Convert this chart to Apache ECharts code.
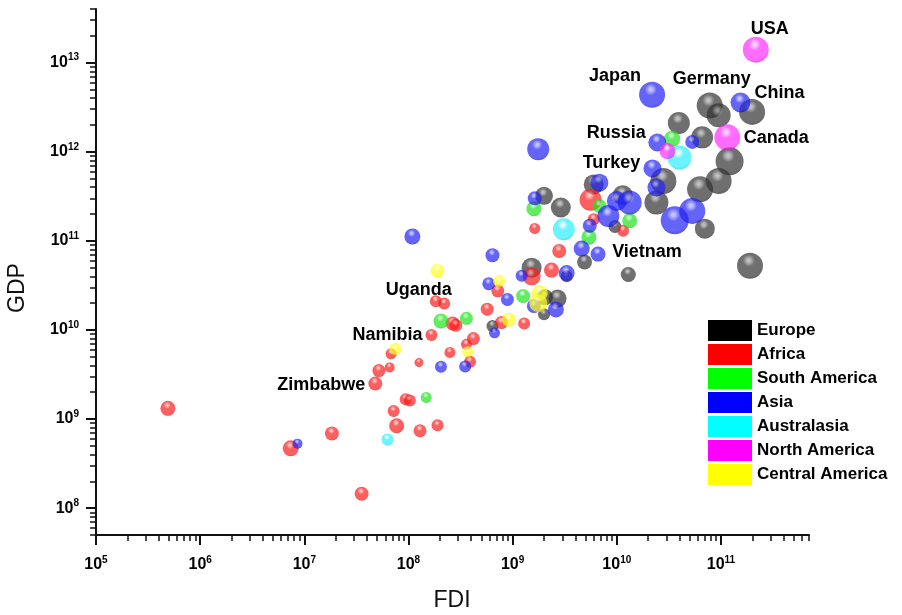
<!DOCTYPE html>
<html>
<head>
<meta charset="utf-8">
<script src="https://cdn.jsdelivr.net/npm/echarts@6/dist/echarts.min.js"></script>
<style>
  html, body { margin: 0; padding: 0; background: #fff; }
  #main { width: 902px; height: 615px; }
</style>
</head>
<body>
<div id="main"></div>
<script>
// [FDI, GDP, bubble size, country label]
var europe = [
  [7.8e10, 3.3e12, 26, 'Germany'], [9.5e10, 2.57e12, 24], [1.99e11, 2.8e12, 26], [3.94e10, 2.1e12, 22],
  [6.6e10, 1.45e12, 22], [1.21e11, 7.8e11, 28], [2.8e10, 4.7e11, 26], [9.5e10, 4.7e11, 26],
  [6.3e10, 3.8e11, 26], [2.4e10, 2.7e11, 24], [7.0e10, 1.37e11, 20], [1.9e11, 5.25e10, 26],
  [1.29e10, 4.2e10, 15], [1.14e10, 3.26e11, 20], [9.6e9, 1.45e11, 13], [6.0e9, 4.3e11, 20],
  [2.0e9, 3.2e11, 18], [2.9e9, 2.37e11, 20], [4.9e9, 5.8e10, 15], [1.52e9, 5.0e10, 20],
  [3.3e9, 4.0e10, 12], [2.04e9, 2.33e10, 16], [2.7e9, 2.25e10, 18], [2.0e9, 1.5e10, 12],
  [6.4e8, 1.11e10, 12]
];
var africa = [
  [4.9e5, 1.32e9, 15], [7.4e6, 4.7e8, 16], [1.84e7, 6.9e8, 14], [3.55e7, 1.45e8, 14],
  [7.7e7, 8.4e8, 15], [7.2e7, 1.23e9, 12], [1.29e8, 7.4e8, 13], [1.9e8, 8.5e8, 12],
  [9.4e7, 1.67e9, 12], [1.03e8, 1.62e9, 12], [4.8e7, 2.5e9, 14, 'Zimbabwe'], [5.2e7, 3.5e9, 13],
  [6.6e7, 3.8e9, 10], [6.8e7, 5.4e9, 11], [1.26e8, 4.3e9, 9], [1.66e8, 8.8e9, 12, 'Namibia'],
  [2.5e8, 5.6e9, 11], [1.83e8, 2.1e10, 12, 'Uganda'], [2.2e8, 1.98e10, 12], [2.65e8, 1.18e10, 14],
  [2.85e8, 1.13e10, 13], [4.2e8, 8.0e9, 13], [3.6e8, 6.9e9, 11], [3.9e8, 4.4e9, 12],
  [7.2e8, 2.75e10, 13], [5.7e8, 1.71e10, 13], [7.8e8, 1.21e10, 13], [1.29e9, 1.18e10, 12],
  [1.63e9, 1.38e11, 11], [2.8e9, 7.7e10, 14], [1.52e9, 4.0e10, 18], [2.36e9, 4.7e10, 15],
  [5.6e9, 2.9e11, 22], [6.0e9, 1.75e11, 12], [1.15e10, 1.3e11, 12]
];
var southAmerica = [
  [1.48e8, 1.75e9, 11], [2.05e8, 1.26e10, 15], [3.6e8, 1.35e10, 13], [1.26e9, 2.4e10, 14],
  [1.6e9, 2.3e11, 15], [6.8e9, 2.46e11, 14], [5.4e9, 1.1e11, 15], [1.33e10, 1.68e11, 15],
  [3.4e10, 1.4e12, 16]
];
var asia = [
  [8.6e6, 5.3e8, 10], [2.05e8, 3.86e9, 12], [3.5e8, 3.9e9, 12], [1.09e8, 1.12e11, 16],
  [6.4e8, 6.9e10, 14], [5.9e8, 3.3e10, 13], [8.9e8, 2.2e10, 13], [6.7e8, 9.3e9, 11],
  [1.76e9, 1.07e12, 22], [1.63e9, 3.0e11, 14], [5.5e9, 1.48e11, 14], [4.6e9, 8.2e10, 16],
  [6.6e9, 7.1e10, 15, 'Vietnam'], [1.22e9, 4.05e10, 12], [3.3e9, 4.35e10, 16], [2.6e9, 1.7e10, 16],
  [1.6e9, 1.86e10, 14], [6.8e9, 4.5e11, 18], [8.3e9, 1.9e11, 22], [1.0e10, 2.8e11, 20],
  [1.33e10, 2.7e11, 24], [2.18e10, 4.36e12, 26, 'Japan'], [1.54e11, 3.57e12, 20, 'China'],
  [5.3e10, 1.29e12, 14], [2.45e10, 1.27e12, 18, 'Russia'], [2.2e10, 6.5e11, 18, 'Turkey'],
  [2.4e10, 3.98e11, 18], [3.6e10, 1.7e11, 28], [5.3e10, 2.17e11, 26]
];
var australasia = [
  [6.3e7, 5.9e8, 12], [3.1e9, 1.35e11, 22], [4.0e10, 8.6e11, 24]
];
var northAmerica = [
  [2.16e11, 1.4e13, 26, 'USA'], [1.15e11, 1.45e12, 26, 'Canada'], [3.06e10, 1.02e12, 16]
];
var centralAmerica = [
  [7.5e7, 6.1e9, 12], [1.9e8, 4.6e10, 14], [3.7e8, 5.7e9, 11], [7.4e8, 3.55e10, 12],
  [9.2e8, 1.3e10, 14], [1.82e9, 2.6e10, 16], [1.76e9, 2.0e10, 18]
];

var xMajor = [1e5, 1e6, 1e7, 1e8, 1e9, 1e10, 1e11];
var yMajor = [1e8, 1e9, 1e10, 1e11, 1e12, 1e13];

function minorTicks(lo, hi) {
  var out = [];
  for (var d = -1; d < 16; d++) {
    for (var k = 2; k <= 9; k++) {
      var v = k * Math.pow(10, d);
      if (v >= lo && v <= hi) out.push(v);
    }
  }
  return out;
}

var FONT = "'Liberation Sans', Arial, sans-serif";

var labelOffset = {
  USA: [14, -21], Japan: [-37, -19], Germany: [2, -27], China: [39, -9],
  Russia: [-41, -9], Canada: [49, 1], Turkey: [-41, -5], Vietnam: [49, -2],
  Uganda: [-17, -11], Namibia: [-44, 0], Zimbabwe: [-54, 1]
};

// shaded sphere look, a bit see-through
function ball(light, base, dark) {
  return {
    type: 'radial', x: 0.45, y: 0.3, r: 0.78,
    colorStops: [
      { offset: 0, color: light },
      { offset: 0.07, color: light },
      { offset: 0.3, color: base },
      { offset: 0.75, color: base },
      { offset: 1, color: dark }
    ]
  };
}

var groups = [
  { name: 'Europe', data: europe, legend: '#000000',
    fill: ball('rgba(165,165,165,0.88)', 'rgba(50,50,50,0.88)', 'rgba(20,20,20,0.88)') },
  { name: 'Africa', data: africa, legend: '#ff0000',
    fill: ball('rgba(255,175,175,0.88)', 'rgba(250,28,28,0.88)', 'rgba(200,0,0,0.88)') },
  { name: 'South America', data: southAmerica, legend: '#00ff00',
    fill: ball('rgba(180,255,180,0.88)', 'rgba(30,228,30,0.88)', 'rgba(10,160,10,0.88)') },
  { name: 'Asia', data: asia, legend: '#0000ff',
    fill: ball('rgba(170,170,255,0.88)', 'rgba(34,34,245,0.88)', 'rgba(0,0,170,0.88)') },
  { name: 'Australasia', data: australasia, legend: '#00ffff',
    fill: ball('rgba(225,255,255,0.88)', 'rgba(45,238,255,0.88)', 'rgba(0,185,210,0.88)') },
  { name: 'North America', data: northAmerica, legend: '#ff00ff',
    fill: ball('rgba(255,190,255,0.88)', 'rgba(255,45,255,0.88)', 'rgba(200,0,200,0.88)') },
  { name: 'Central America', data: centralAmerica, legend: '#ffff00',
    fill: ball('rgba(255,255,200,0.88)', 'rgba(255,255,30,0.88)', 'rgba(215,215,0,0.88)') }
];

var labelStyle = {
  position: 'inside', color: '#000', opacity: 1, fontSize: 18,
  fontWeight: 'bold', fontFamily: FONT, textBorderWidth: 0
};

var series = groups.map(function (g) {
  return {
    name: g.name,
    type: 'scatter',
    xAxisIndex: 0,
    yAxisIndex: 0,
    symbolSize: function (d) { return d[2]; },
    itemStyle: { color: g.fill },
    emphasis: { disabled: true },
    label: echarts.util.extend({ show: false }, labelStyle),
    data: g.data.map(function (d) {
      var item = { value: [d[0], d[1], d[2]] };
      if (d[3]) {
        item.name = d[3];
        item.label = echarts.util.extend({
          show: true, formatter: d[3], offset: labelOffset[d[3]]
        }, labelStyle);
      }
      return item;
    })
  };
});

function powLabel(v) {
  var e = Math.round(Math.log10(v));
  return '{n|10}{s|' + e + '}';
}
var richPow = {
  n: { fontSize: 16, fontWeight: 'bold', fontFamily: FONT, color: '#000' },
  s: { fontSize: 10, fontWeight: 'bold', fontFamily: FONT, color: '#000', padding: [0, 0, 10, 0] }
};

var xRange = { min: 1e5, max: 7e11 };
var yRange = { min: 5e7, max: 4e13 };

function logAxis(range, pos, major, isMinor, margin) {
  return {
    type: 'log', logBase: 10, min: range.min, max: range.max, position: pos,
    axisLine: { show: !isMinor, onZero: false, lineStyle: { color: '#111', width: 2 } },
    axisTick: {
      show: true, inside: false, length: isMinor ? 6 : 10,
      customValues: isMinor ? minorTicks(range.min, range.max) : major,
      lineStyle: { color: '#111', width: isMinor ? 1.5 : 2 }
    },
    axisLabel: {
      show: !isMinor, customValues: major, formatter: powLabel, rich: richPow, margin: margin
    },
    splitLine: { show: false },
    minorTick: { show: false }
  };
}

var chart = echarts.init(document.getElementById('main'));
chart.setOption({
  animation: false,
  backgroundColor: '#fff',
  grid: { left: 96, right: 93, top: 9, bottom: 80, containLabel: false },
  xAxis: [
    logAxis(xRange, 'bottom', xMajor, false, 20),
    logAxis(xRange, 'bottom', xMajor, true, 20)
  ],
  yAxis: [
    logAxis(yRange, 'left', yMajor, false, 17),
    logAxis(yRange, 'left', yMajor, true, 17)
  ],
  legend: {
    orient: 'vertical', left: 708, top: 320, padding: 0,
    itemWidth: 44, itemHeight: 21, itemGap: 3,
    icon: 'rect', selectedMode: false,
    textStyle: { fontSize: 17, fontWeight: 'bold', fontFamily: FONT, color: '#000' },
    data: groups.map(function (g) {
      return { name: g.name, itemStyle: { color: g.legend, opacity: 1, borderWidth: 0 } };
    })
  },
  graphic: [
    {
      type: 'text', x: 18, y: 288, rotation: Math.PI / 2,
      style: { text: 'GDP', fontSize: 23, fontFamily: FONT, fill: '#111', align: 'center', verticalAlign: 'middle' }
    },
    {
      type: 'text', x: 452, y: 601,
      style: { text: 'FDI', fontSize: 23, fontFamily: FONT, fill: '#111', align: 'center', verticalAlign: 'middle' }
    }
  ],
  series: series
});
</script>
</body>
</html>
